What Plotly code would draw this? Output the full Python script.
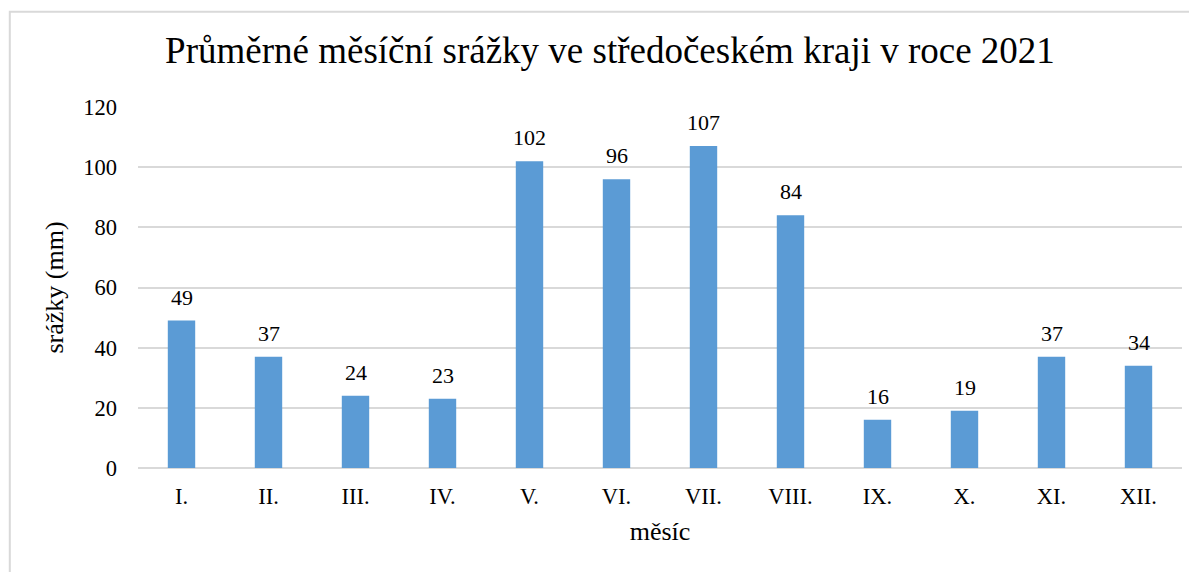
import plotly.graph_objects as go

months = ["I.", "II.", "III.", "IV.", "V.", "VI.", "VII.", "VIII.", "IX.", "X.", "XI.", "XII."]
rainfall = [49, 37, 24, 23, 102, 96, 107, 84, 16, 19, 37, 34]
y_ticks = [0, 20, 40, 60, 80, 100, 120]

title_text = "Průměrné měsíční srážky ve středočeském kraji v roce 2021"
x_title = "měsíc"
y_title = "srážky (mm)"

FONT = "Liberation Serif, Times New Roman, serif"
BAR = "#5B9BD5"
GRID = "#d9d9d9"

fig = go.Figure()
fig.add_trace(go.Bar(
    x=months, y=rainfall,
    marker=dict(color=BAR, line=dict(width=0)),
    width=0.315,
    hoverinfo="x+y",
))

for m, v in zip(months, rainfall):
    fig.add_annotation(
        x=m, y=v, text=str(v), showarrow=False,
        yanchor="bottom", yshift=9,
        font=dict(family=FONT, size=22, color="#000000"),
    )

# page body has an 8px margin, so the figure is drawn 8px in from the top-left
W, H = 1189, 564
ml, mr, mt, mb = 129.7, 15.3, 98.7, 104.3
pw, ph = W - ml - mr, H - mt - mb

def px_to_paper_x(px):
    return (px - ml) / pw

def px_to_paper_y(py):
    return (H - mb - py) / ph

fig.add_shape(
    type="rect", xref="paper", yref="paper",
    x0=px_to_paper_x(1.5), x1=px_to_paper_x(1210),
    y0=px_to_paper_y(600), y1=px_to_paper_y(3.5),
    line=dict(color=GRID, width=2), fillcolor="rgba(0,0,0,0)", layer="below",
)

fig.update_layout(
    width=W, height=H,
    margin=dict(l=ml, r=mr, t=mt, b=mb, pad=0),
    paper_bgcolor="white", plot_bgcolor="white",
    showlegend=False,
    font=dict(family=FONT, size=22, color="#000000"),
    title=dict(
        text=title_text, x=602 / W, xanchor="center", xref="container",
        y=1 - 42 / H, yanchor="middle", yref="container",
        font=dict(family=FONT, size=37, color="#000000"),
    ),
    bargap=0.685,
)

fig.update_xaxes(
    type="category",
    showgrid=False, showline=False, zeroline=False,
    ticks="", ticklabelstandoff=12,
    tickfont=dict(family=FONT, size=22.5, color="#000000"),
    title=dict(text=x_title, standoff=14, font=dict(family=FONT, size=26, color="#000000")),
)
fig.update_yaxes(
    range=[0, 120], tickvals=y_ticks,
    showgrid=True, gridcolor=GRID, gridwidth=1.5,
    zeroline=True, zerolinecolor=GRID, zerolinewidth=1.5,
    showline=False, ticks="", ticklabelstandoff=20,
    tickfont=dict(family=FONT, size=22.5, color="#000000"),
    title=dict(text=y_title, standoff=12, font=dict(family=FONT, size=26, color="#000000")),
)

fig.write_html("out.html")
